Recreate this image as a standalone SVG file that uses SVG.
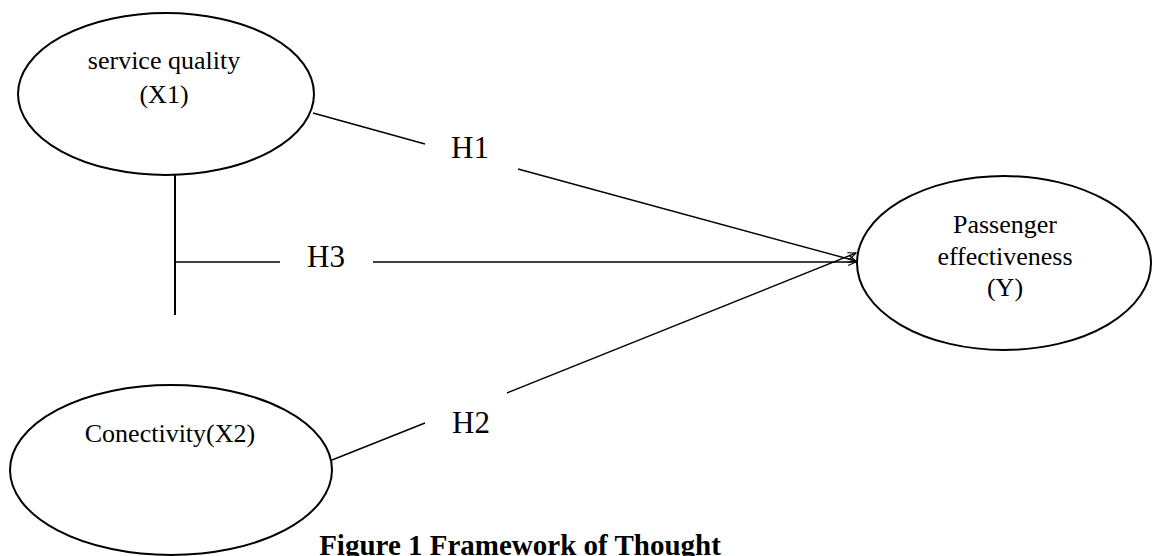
<svg xmlns="http://www.w3.org/2000/svg" width="1152" height="556" viewBox="0 0 1152 556">
<style>
.node{fill:#fff;stroke:#000;stroke-width:2}
.lbl{font-family:"Liberation Serif","Times New Roman",serif;font-size:26px;fill:#000;text-anchor:middle}
.h{font-family:"Liberation Serif","Times New Roman",serif;font-size:31px;fill:#000;text-anchor:middle}
.cap{font-family:"Liberation Serif","Times New Roman",serif;font-size:29px;font-weight:bold;fill:#000;text-anchor:middle}
.ln{fill:none;stroke:#000;stroke-width:1.4}
.ln2{fill:none;stroke:#000;stroke-width:2}
</style>
<defs>
<marker id="arr" markerWidth="10" markerHeight="10" refX="9" refY="4" orient="auto" markerUnits="userSpaceOnUse">
<path d="M1,0.5 L9,4 L1,7.5" fill="none" stroke="#000" stroke-width="1.2"/>
</marker>
</defs>
<rect width="1152" height="556" fill="#fff"/>
<g id="connectors">
<line class="ln" x1="313" y1="113" x2="425" y2="144"/>
<line class="ln" x1="518" y1="169" x2="856" y2="261" marker-end="url(#arr)"/>
<line class="ln2" x1="175" y1="174" x2="175" y2="315"/>
<line class="ln" x1="175" y1="262" x2="280" y2="262"/>
<line class="ln" x1="373" y1="262" x2="856" y2="262" marker-end="url(#arr)"/>
<line class="ln" x1="332" y1="460" x2="425" y2="423"/>
<line class="ln" x1="507" y1="393" x2="856" y2="253" marker-end="url(#arr)"/>
<text class="h" x="470" y="158">H1</text>
<text class="h" x="326" y="267">H3</text>
<text class="h" x="471" y="433">H2</text>
</g>
<g id="x1">
<ellipse class="node" cx="166" cy="94" rx="148" ry="81"/>
<text class="lbl" x="164" y="69">service quality</text>
<text class="lbl" x="164" y="103">(X1)</text>
</g>
<g id="y">
<ellipse class="node" cx="1004" cy="263" rx="147" ry="87"/>
<text class="lbl" x="1005" y="233">Passenger</text>
<text class="lbl" x="1005" y="265">effectiveness</text>
<text class="lbl" x="1005" y="296">(Y)</text>
</g>
<g id="x2">
<ellipse class="node" cx="171" cy="470" rx="161" ry="85"/>
<text class="lbl" x="170" y="442">Conectivity(X2)</text>
</g>
<text class="cap" x="520" y="555">Figure 1 Framework of Thought</text>
</svg>
